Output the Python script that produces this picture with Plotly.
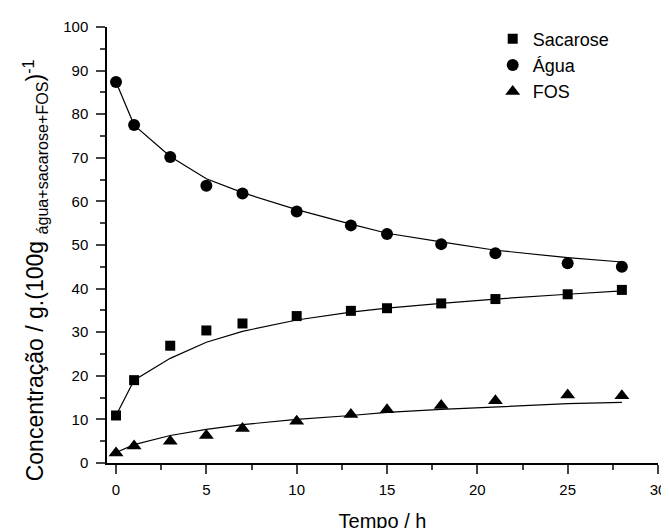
import plotly.graph_objects as go

tempo = [0, 1, 3, 5, 7, 10, 13, 15, 18, 21, 25, 28]

sacarose = [10.9, 19.0, 26.9, 30.4, 32.0, 33.7, 34.9, 35.5, 36.6, 37.6, 38.7, 39.7]
agua = [87.4, 77.5, 70.2, 63.6, 61.8, 57.7, 54.5, 52.5, 50.2, 48.1, 45.8, 45.0]
fos = [2.3, 3.9, 5.0, 6.3, 7.9, 9.6, 11.1, 12.2, 13.2, 14.3, 15.6, 15.4]

sacarose_fit = [10.9, 19.0, 24.0, 27.7, 30.2, 32.8, 34.6, 35.5, 36.6, 37.6, 38.7, 39.5]
agua_fit = [87.4, 77.5, 70.3, 65.2, 62.0, 58.1, 54.8, 52.7, 50.7, 48.8, 47.1, 46.1]
fos_fit = [2.4, 4.2, 6.3, 7.7, 8.8, 10.0, 10.9, 11.6, 12.3, 12.9, 13.6, 13.9]

xticks = [0, 5, 10, 15, 20, 25, 30]
yticks = [0, 10, 20, 30, 40, 50, 60, 70, 80, 90, 100]

x_title = "Tempo / h"
y_title = "Concentração / g.(100g <sub>água+sacarose+FOS</sub>)<sup>-1</sup>"

FONT = "Liberation Sans, Arial, sans-serif"

fig = go.Figure()

for fit in (sacarose_fit, agua_fit, fos_fit):
    fig.add_trace(go.Scatter(x=tempo, y=fit, mode="lines",
                             line=dict(color="black", width=1.2),
                             showlegend=False, hoverinfo="skip"))

fig.add_trace(go.Scatter(x=tempo, y=sacarose, mode="markers", name="Sacarose",
                         marker=dict(symbol="square", size=10, color="black")))
fig.add_trace(go.Scatter(x=tempo, y=agua, mode="markers", name="Água",
                         marker=dict(symbol="circle", size=12, color="black")))
fig.add_trace(go.Scatter(x=tempo, y=fos, mode="markers", name="FOS",
                         marker=dict(symbol="triangle-up", size=13, color="black")))

fig.update_layout(
    width=669, height=528,
    margin=dict(l=99, r=19, t=13, b=73),
    paper_bgcolor="white", plot_bgcolor="white",
    font=dict(family=FONT, color="black", size=15),
    legend=dict(x=0.70, y=1.015, xanchor="left", yanchor="top",
                font=dict(size=18, family=FONT), bgcolor="rgba(0,0,0,0)",
                tracegroupgap=0, itemsizing="trace"),
    xaxis=dict(range=[-0.5, 30], tickvals=xticks, ticks="outside", ticklen=9,
               tickwidth=1.5, showline=True, linecolor="black", linewidth=1.5,
               showgrid=False, zeroline=False, tickfont=dict(size=15),
               ticklabelstandoff=3, automargin=False,
               minor=dict(dtick=2.5, tick0=0, ticks="outside", ticklen=5, tickwidth=1.5, showgrid=False),
               title=dict(text=x_title, font=dict(size=20), standoff=17)),
    yaxis=dict(range=[0, 100], tickvals=yticks, ticks="outside", ticklen=9,
               tickwidth=1.5, showline=True, linecolor="black", linewidth=1.5,
               showgrid=False, zeroline=False, tickfont=dict(size=15),
               ticklabelstandoff=5, automargin=False,
               minor=dict(dtick=5, tick0=0, ticks="outside", ticklen=5, tickwidth=1.5, showgrid=False)),
    annotations=[dict(text=y_title, textangle=-90, xref="paper", yref="paper",
                      x=0, y=0.442, xanchor="center", yanchor="middle",
                      xshift=-72, showarrow=False, font=dict(size=23, family=FONT))],
)

fig.write_html("out.html")
